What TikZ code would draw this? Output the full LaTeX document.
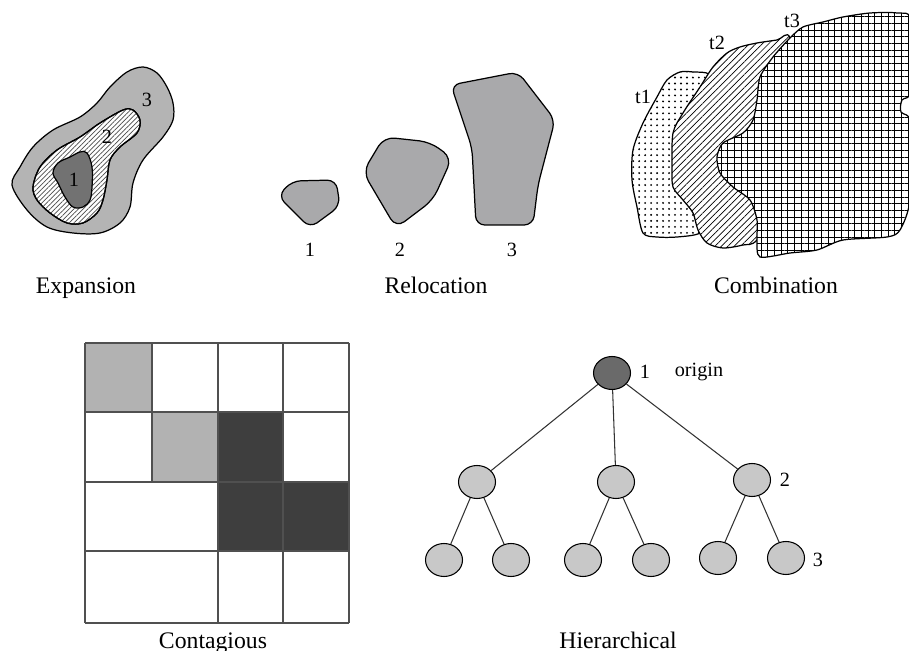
\documentclass[tikz,border=0pt]{standalone}
\usepackage{fontspec}
\setmainfont{Liberation Serif}
\usetikzlibrary{patterns.meta, shapes.geometric}
\definecolor{ZoneGray}{HTML}{B4B4B4}
\definecolor{CoreGray}{HTML}{727272}
\definecolor{BlobGray}{HTML}{A9A9AB}
\definecolor{CellLight}{HTML}{B2B2B2}
\definecolor{CellDark}{HTML}{3E3E3E}
\definecolor{NodeLight}{HTML}{C8C8C8}
\definecolor{NodeDark}{HTML}{6A6A6A}
\definecolor{GridGray}{HTML}{505050}
\tikzset{
  outline/.style={draw=black, line width=0.7pt},
  caption/.style={font=\fontsize{13.5}{16}\selectfont, anchor=base, inner sep=0pt},
  tag/.style={font=\fontsize{11.5}{13}\selectfont, inner sep=0pt},
  cell/.style={draw=GridGray, line width=0.6pt},
  site/.style={ellipse, draw=black, line width=0.6pt, fill=NodeLight, minimum width=0.74cm, minimum height=0.66cm, inner sep=0pt},
  link/.style={draw=black!80, line width=0.6pt}
}

\begin{document}
\begin{tikzpicture}[x=0.02cm,y=-0.02cm]
\useasboundingbox (0,0) rectangle (909,651);

% expansion: three nested zones
\draw[outline, fill=ZoneGray] plot[smooth cycle, tension=0.55] coordinates {
(12,185) (20,167) (33,147) (53,130) (80,117) (97,103) (110,87) (127,72) (143,67) (157,73) (167,87) (173,103) (173,120) (163,137) (143,160) (133,183) (130,207) (120,223) (100,233) (73,233) (47,227) (27,210)};
\draw[outline, fill=white] plot[smooth cycle, tension=0.55] coordinates {
(33,187) (40,167) (57,150) (80,137) (100,123) (123,110) (133,110) (140,120) (137,133) (120,147) (110,160) (107,180) (103,200) (97,213) (83,223) (67,223) (50,213) (37,200)};
\draw[outline, pattern={Lines[angle=45, distance=1.9pt, line width=0.4pt]}, pattern color=black!70] plot[smooth cycle, tension=0.55] coordinates {
(33,187) (40,167) (57,150) (80,137) (100,123) (123,110) (133,110) (140,120) (137,133) (120,147) (110,160) (107,180) (103,200) (97,213) (83,223) (67,223) (50,213) (37,200)};
\draw[outline, fill=CoreGray] plot[smooth cycle, tension=0.6] coordinates {
(53,173) (58,163) (70,157) (80,152) (87,153) (92,167) (92,187) (90,200) (83,207) (73,207) (65,197) (58,183)};
\node[tag] (exp1) at (74,180) {1};
\node[tag] (exp2) at (107,137) {2};
\node[tag] (exp3) at (147,100) {3};
\node[caption] (expansion) at (86,294) {Expansion};

% relocation: three separate blobs
\draw[outline, fill=BlobGray, rounded corners=5pt] (278,196) -- (292,181) -- (336,180) -- (340,206) -- (310,228) -- cycle;
\draw[outline, fill=BlobGray, rounded corners=6pt] (363,172) -- (384,137) -- (430,142) -- (452,158) -- (433,200) -- (396,228) -- cycle;
\draw[outline, fill=BlobGray, rounded corners=5pt] (451,85) -- (518,72) -- (555,120) -- (538,185) -- (533,225) -- (476,225) -- (472,148) -- cycle;
\node[tag] (rel1) at (310,250) {1};
\node[tag] (rel2) at (400,250) {2};
\node[tag] (rel3) at (512,250) {3};
\node[caption] (relocation) at (436,294) {Relocation};

% combination: t1 under t2 under t3
\draw[outline, pattern={Dots[distance=3.4pt, radius=0.6pt]}, preaction={fill=white}] plot[smooth cycle, tension=0.5] coordinates {
(643,233) (637,207) (632,180) (633,150) (643,123) (657,97) (667,80) (680,72) (693,72) (710,75) (717,100) (717,167) (710,217) (700,233) (677,237) (657,237)};
\draw[outline, pattern={Lines[angle=45, distance=2.6pt, line width=0.4pt]}, preaction={fill=white}] plot[smooth cycle, tension=0.5] coordinates {
(672,167) (673,133) (683,113) (700,87) (713,67) (727,53) (740,47) (757,43) (777,40) (790,38) (797,100) (783,200) (757,240) (743,245) (723,248) (707,243) (698,230) (693,213) (683,200) (673,187)};
\draw[outline, pattern={Hatch[distance=3.8pt, line width=0.4pt]}, preaction={fill=white}] plot[smooth cycle, tension=0.45] coordinates {
(790,38) (803,27) (823,22) (843,17) (870,13) (897,13) (912,20) (912,90) (902,100) (901,112) (912,124) (910,200) (900,230) (887,237) (843,240) (817,250) (790,253) (760,257) (757,240) (757,220) (750,200) (733,187) (720,173) (717,157) (723,143) (743,133) (753,120) (757,100) (760,77) (773,57)};
\node[tag] (t1) at (643,97) {t1};
\node[tag] (t2) at (717,43) {t2};
\node[tag] (t3) at (792,21) {t3};
\node[caption] (combination) at (776,294) {Combination};

% contagious: grid with infected cells
\fill[CellLight] (85,343) rectangle (152,412);
\fill[CellLight] (152,412) rectangle (218,482);
\fill[CellDark] (218,412) rectangle (283,482);
\fill[CellDark] (218,482) rectangle (283,551);
\fill[CellDark] (283,482) rectangle (349,551);
\foreach \x in {85,218,283,349}
  \draw[cell] (\x,343) -- (\x,623);
\draw[cell] (152,343) -- (152,482);
\foreach \y in {343,412,482,551,623}
  \draw[cell] (85,\y) -- (349,\y);
\node[caption] (contagious) at (213,648) {Contagious};

% hierarchical: spread down a tree
\node[site, fill=NodeDark] (root) at (612,373) {};
\node[site] (a) at (477,482) {};
\node[site] (b) at (616,482) {};
\node[site] (c) at (752,480) {};
\node[site] (a1) at (444,560) {};
\node[site] (a2) at (511,560) {};
\node[site] (b1) at (583,560) {};
\node[site] (b2) at (651,560) {};
\node[site] (c1) at (718,558) {};
\node[site] (c2) at (786,558) {};
\foreach \u/\v in {root/a, root/b, root/c, a/a1, a/a2, b/b1, b/b2, c/c1, c/c2}
  \draw[link] (\u) -- (\v);
\node[tag] (lvl1) at (645,372) {1};
\node[tag] (origin) at (699,372) {origin};
\node[tag] (lvl2) at (785,480) {2};
\node[tag] (lvl3) at (818,560) {3};
\node[caption] (hierarchical) at (618,648) {Hierarchical};
\end{tikzpicture}
\end{document}
